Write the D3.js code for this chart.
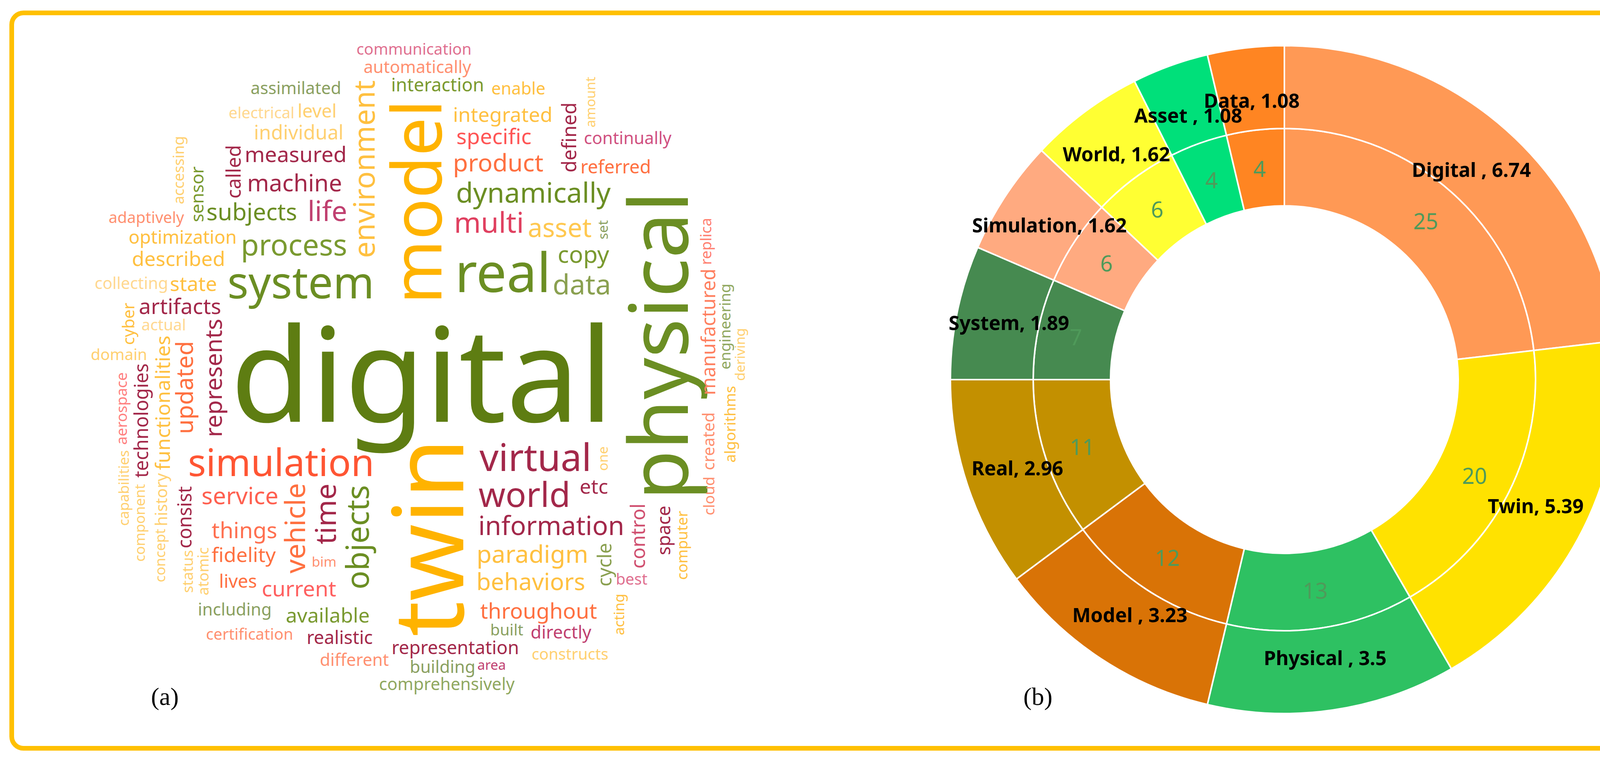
<!DOCTYPE html>
<html lang="en">
<head>
<meta charset="UTF-8">
<title>Digital twin word cloud and donut</title>
<script src="https://d3js.org/d3.v7.min.js"></script>
<style>
  html, body { margin: 0; padding: 0; background: #fff; overflow: hidden; }
  svg { display: block; }
  .cloud text { font-family: "Noto Sans", sans-serif; }
  .donut text { font-family: "Noto Sans", sans-serif; }
  .panel { font-family: "Liberation Serif", serif; font-size: 64px; }
</style>
</head>
<body>
<script>
// ---- donut data ----
var terms = ['Digital', 'Twin', 'Physical', 'Model', 'Real', 'System', 'Simulation', 'World', 'Asset', 'Data'];
var counts = [25, 20, 13, 12, 11, 7, 6, 6, 4, 4];
var shares = [6.74, 5.39, 3.5, 3.23, 2.96, 1.89, 1.62, 1.62, 1.08, 1.08];
var termLabels = ['Digital , 6.74', 'Twin, 5.39', 'Physical , 3.5', 'Model , 3.23', 'Real, 2.96',
  'System, 1.89', 'Simulation, 1.62', 'World, 1.62', 'Asset , 1.08', 'Data, 1.08'];
var termColors = ['#ff9955', '#ffe200', '#2ec162', '#d97306', '#c39000', '#468a50', '#ffaa80', '#ffff33', '#00e07a', '#ff8522'];

// ---- word cloud data: word, weight, vertical ----
var words = ['digital', 'twin', 'physical', 'model', 'real', 'system', 'simulation', 'virtual', 'world', 'objects',
  'environment', 'multi', 'time', 'process', 'dynamically', 'information', 'data', 'vehicle', 'life', 'asset',
  'paradigm', 'product', 'machine', 'behaviors', 'service', 'copy', 'subjects', 'represents', 'updated', 'things',
  'measured', 'specific', 'current', 'throughout', 'artifacts', 'etc', 'state', 'available', 'fidelity', 'described',
  'integrated', 'functionalities', 'individual', 'control', 'defined', 'called', 'technologies', 'manufactured', 'consist', 'cycle',
  'representation', 'optimization', 'realistic', 'interaction', 'referred', 'lives', 'level', 'space', 'sensor', 'directly',
  'building', 'different', 'including', 'enable', 'automatically', 'assimilated', 'comprehensively', 'continually', 'collecting', 'history',
  'created', 'cyber', 'communication', 'domain', 'certification', 'electrical', 'constructs', 'actual', 'adaptively', 'built',
  'best', 'aerospace', 'atomic', 'engineering', 'algorithms', 'computer', 'accessing', 'replica', 'status', 'cloud',
  'acting', 'component', 'capabilities', 'concept', 'deriving', 'amount', 'bim', 'area', 'one', 'set'];
var weights = [400, 300, 250, 210, 165, 135, 115, 115, 105, 95,
  90, 88, 88, 90, 85, 80, 85, 85, 85, 80,
  75, 75, 72, 72, 72, 72, 72, 72, 72, 68,
  66, 66, 66, 66, 66, 62, 62, 62, 62, 62,
  62, 62, 60, 60, 60, 60, 58, 58, 58, 58,
  56, 56, 56, 56, 56, 56, 56, 56, 54, 54,
  52, 52, 52, 52, 52, 52, 52, 52, 50, 50,
  50, 50, 48, 48, 48, 48, 48, 48, 48, 48,
  48, 46, 46, 46, 46, 46, 46, 46, 46, 46,
  44, 44, 44, 44, 42, 42, 42, 42, 42, 42];
var vertical = [0, 1, 1, 1, 0, 0, 0, 0, 0, 1,
  1, 0, 1, 0, 0, 0, 0, 1, 0, 0,
  0, 0, 0, 0, 0, 0, 0, 1, 1, 0,
  0, 0, 0, 0, 0, 0, 0, 0, 0, 0,
  0, 1, 0, 1, 1, 1, 1, 1, 1, 1,
  0, 0, 0, 0, 0, 0, 0, 1, 1, 0,
  0, 0, 0, 0, 0, 0, 0, 0, 0, 1,
  1, 1, 0, 0, 0, 0, 0, 0, 0, 0,
  0, 1, 1, 1, 1, 1, 1, 1, 1, 1,
  1, 1, 1, 1, 1, 1, 0, 0, 1, 1];
var wordColors = ['#5e7d12', '#ffb300', '#6b8e23', '#ffb300', '#6b8e23', '#6b8e23', '#ff5533', '#a3284a', '#a3284a', '#6b8e23',
  '#ffc040', '#e04060', '#a3284a', '#7a9a30', '#6b8e23', '#a3284a', '#8aa050', '#ff7040', '#c04070', '#ffc850',
  '#ffc040', '#ff7040', '#a3284a', '#ffc040', '#ff6050', '#7a9a30', '#6b8e23', '#a3284a', '#ff7040', '#ff7050',
  '#a3284a', '#ff5555', '#ff6060', '#ff7040', '#a3284a', '#a3284a', '#ffc040', '#7a9a30', '#ff7040', '#ffc040',
  '#ffc040', '#ffc040', '#ffd070', '#d05070', '#a3284a', '#a3284a', '#a3284a', '#ff8060', '#a3284a', '#8aa050',
  '#a3284a', '#ffc040', '#a3284a', '#7a9a30', '#ff7040', '#ff7040', '#ffd070', '#a3284a', '#7a9a30', '#c04070',
  '#8aa060', '#ff9070', '#8aa060', '#ffc040', '#ff9070', '#8aa060', '#90a860', '#d05080', '#ffd890', '#ffd070',
  '#ff9070', '#ffc040', '#e07090', '#ffd070', '#ff9070', '#ffd890', '#ffd070', '#ffd890', '#ff9070', '#8aa060',
  '#e07090', '#ff8080', '#ffd070', '#90a860', '#ffc040', '#ffc040', '#ffd070', '#ff8070', '#ffd070', '#ff9070',
  '#ffc040', '#ffd070', '#ffd070', '#ffd070', '#ffd070', '#ffd070', '#ff9070', '#c04070', '#ffd070', '#8aa060'];

var W = 4360, H = 1946;
var svg = d3.select('body').append('svg').attr('width', W).attr('height', H);

svg.append('rect')
  .attr('x', 30).attr('y', 33).attr('width', 4302).attr('height', 1883)
  .attr('rx', 30).attr('fill', '#fff').attr('stroke', '#ffc000').attr('stroke-width', 12);

//---- word cloud (simple spiral placement inside an ellipse) ----
var cloud = svg.append('g').attr('class', 'cloud');
var cx = 1080, cy = 950, rx = 910, ry = 890;
var size = d3.scaleLinear().domain([0, 400]).range([0, 335]);
var placed = [{x0: 340, x1: 500, y0: 1720, y1: 1830}]; // keep "(a)" free

function inside(x, y) {
  var u = (x - cx) / rx, v = (y - cy) / ry;
  return u * u + v * v <= 1;
}
function hits(r) {
  if (!inside(r.x0, r.y0) || !inside(r.x1, r.y0) || !inside(r.x0, r.y1) || !inside(r.x1, r.y1)) return true;
  for (var k = 0; k < placed.length; k++) {
    var p = placed[k];
    if (r.x0 < p.x1 && r.x1 > p.x0 && r.y0 < p.y1 && r.y1 > p.y0) return true;
  }
  return false;
}

words.forEach(function (w, i) {
  var t = cloud.append('text')
    .text(w)
    .attr('font-size', size(weights[i]))
    .attr('fill', wordColors[i])
    .attr('text-anchor', 'middle')
    .attr('dominant-baseline', 'central');
  var bb = t.node().getBBox();
  var bw = bb.width + 4, bh = bb.height * 0.74;
  if (vertical[i]) { var tmp = bw; bw = bh; bh = tmp; }
  for (var s = 0; s < 9000; s++) {
    var a = s * 0.06, rad = 2.4 * a;
    var x = cx + rad * Math.cos(a), y = cy + rad * Math.sin(a);
    var r = {x0: x - bw / 2, x1: x + bw / 2, y0: y - bh / 2, y1: y + bh / 2};
    if (!hits(r)) {
      placed.push(r);
      t.attr('transform', 'translate(' + x + ',' + y + ')' + (vertical[i] ? ' rotate(-90)' : ''));
      return;
    }
  }
  // fallback: shrink until it fits somewhere
  t.attr('font-size', size(weights[i]) * 0.7).attr('transform', 'translate(' + cx + ',' + (cy + ry - 40) + ')');
});

//---- donut ----
var c = {x: 3288, y: 972};
var g = svg.append('g').attr('class', 'donut')
  .attr('transform', 'translate(' + c.x + ',' + c.y + ')');

var pie = d3.pie().sort(null).value(function (d) { return d; });
var arcs = pie(counts);
var inner = d3.arc().innerRadius(445).outerRadius(643);
var outer = d3.arc().innerRadius(643).outerRadius(855);

g.selectAll('path.in').data(arcs).enter().append('path')
  .attr('class', 'in').attr('d', inner)
  .attr('fill', function (d, i) { return termColors[i]; })
  .attr('stroke', '#fff').attr('stroke-width', 4);
g.selectAll('path.out').data(arcs).enter().append('path')
  .attr('class', 'out').attr('d', outer)
  .attr('fill', function (d, i) { return termColors[i]; })
  .attr('stroke', '#fff').attr('stroke-width', 4);

var inLab = d3.arc().innerRadius(545).outerRadius(545);
g.selectAll('text.cnt').data(arcs).enter().append('text')
  .attr('class', 'cnt')
  .attr('transform', function (d) { return 'translate(' + inLab.centroid(d) + ')'; })
  .attr('text-anchor', 'middle').attr('dominant-baseline', 'central')
  .attr('font-size', 56).attr('fill', '#4f9a5a')
  .text(function (d) { return d.data; });

var outLab = d3.arc().innerRadius(720).outerRadius(720);
g.selectAll('text.term').data(arcs).enter().append('text')
  .attr('class', 'term')
  .attr('transform', function (d) { return 'translate(' + outLab.centroid(d) + ')'; })
  .attr('text-anchor', 'middle').attr('dominant-baseline', 'central')
  .attr('font-size', 50).attr('font-weight', 'bold').attr('fill', '#000')
  .text(function (d, i) { return termLabels[i]; });

svg.append('text').attr('class', 'panel').attr('x', 422).attr('y', 1805).attr('text-anchor', 'middle').text('(a)');
svg.append('text').attr('class', 'panel').attr('x', 2657).attr('y', 1805).attr('text-anchor', 'middle').text('(b)');
</script>
</body>
</html>
